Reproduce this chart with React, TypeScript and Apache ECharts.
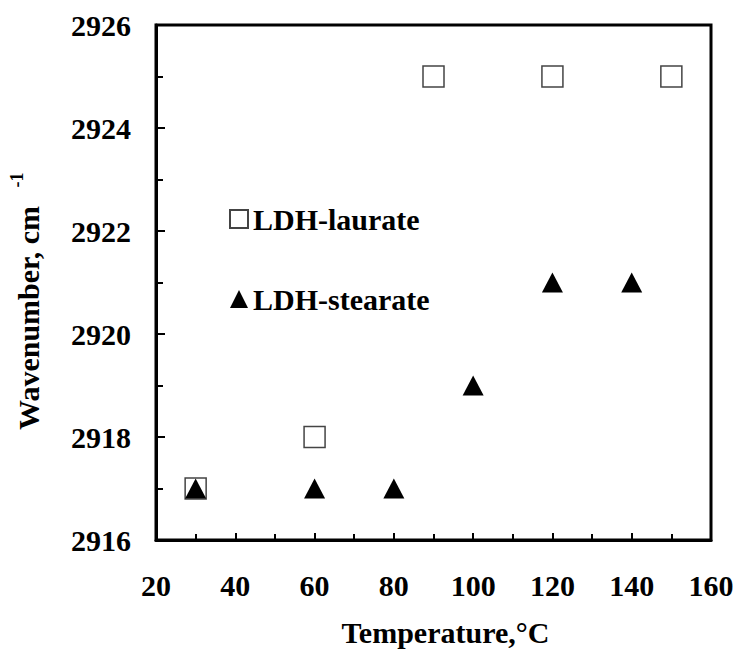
import React, { useEffect, useRef } from "react";
import * as echarts from "echarts";

const laurateTemps = [30, 60, 90, 120, 150];
const laurateWave = [2917, 2918, 2925, 2925, 2925];
const stearateTemps = [30, 60, 80, 100, 120, 140];
const stearateWave = [2917, 2917, 2917, 2919, 2921, 2921];
const seriesNames = ["LDH-laurate", "LDH-stearate"];
const xTitle = "Temperature,°C";
const yTitle = "Wavenumber, cm";
const ySup = "-1";

const FONT = "'Liberation Serif', 'Times New Roman', serif";

export default function App() {
  const ref = useRef<HTMLDivElement>(null);
  useEffect(() => {
    if (!ref.current) return;
    const chart = echarts.init(ref.current, undefined, { renderer: "svg" });
    const lau = laurateTemps.map((t, i) => [t, laurateWave[i]]);
    const ste = stearateTemps.map((t, i) => [t, stearateWave[i]]);
    chart.setOption({
      animation: false,
      backgroundColor: "#fff",
      grid: {
        left: 156,
        right: 28,
        top: 25,
        bottom: 111,
        show: true,
        borderColor: "#000",
        borderWidth: 3,
      },
      legend: {
        orient: "vertical",
        left: 224,
        top: 199,
        itemWidth: 18,
        itemHeight: 18,
        itemGap: 50,
        textStyle: {
          fontFamily: FONT,
          fontWeight: "bold",
          fontSize: 30,
          color: "#000",
          lineHeight: 30,
        },
        data: seriesNames,
      },
      xAxis: {
        type: "value",
        min: 20,
        max: 160,
        interval: 20,
        name: xTitle,
        nameLocation: "middle",
        nameGap: 77,
        nameTextStyle: {
          fontFamily: FONT,
          fontWeight: "bold",
          fontSize: 30,
          color: "#000",
          padding: [0, 0, 0, 24],
        },
        axisLine: { show: true, lineStyle: { color: "#000", width: 3 } },
        axisTick: { show: true, inside: true, length: 7, lineStyle: { color: "#000", width: 2 } },
        minorTick: { show: true, splitNumber: 2, length: 6, lineStyle: { color: "#000", width: 2 } },
        splitLine: { show: false },
        axisLabel: {
          margin: 30,
          fontFamily: FONT,
          fontWeight: "bold",
          fontSize: 30,
          color: "#000",
        },
      },
      yAxis: {
        type: "value",
        min: 2916,
        max: 2926,
        interval: 2,
        axisLine: { show: true, lineStyle: { color: "#000", width: 3 } },
        axisTick: { show: true, inside: true, length: 9, lineStyle: { color: "#000", width: 2 } },
        minorTick: { show: true, splitNumber: 2, length: 7, lineStyle: { color: "#000", width: 2 } },
        splitLine: { show: false },
        axisLabel: {
          margin: 25,
          fontFamily: FONT,
          fontWeight: "bold",
          fontSize: 30,
          color: "#000",
          formatter: (v: number) => String(v),
        },
      },
      graphic: [
        {
          type: "text",
          x: 28,
          y: 318,
          rotation: Math.PI / 2,
          style: {
            text: yTitle,
            fontFamily: FONT,
            fontWeight: "bold",
            fontSize: 30,
            fill: "#000",
            align: "center",
            verticalAlign: "middle",
          },
        },
        {
          type: "text",
          x: 17,
          y: 180,
          rotation: Math.PI / 2,
          style: {
            text: ySup,
            fontFamily: FONT,
            fontWeight: "bold",
            fontSize: 18,
            fill: "#000",
            align: "center",
            verticalAlign: "middle",
          },
        },
      ],
      series: [
        {
          name: seriesNames[0],
          type: "scatter",
          data: lau,
          symbol: "rect",
          symbolSize: 21,
          itemStyle: { color: "#fff", borderColor: "#444", borderWidth: 1.5, opacity: 1 },
          z: 2,
        },
        {
          name: seriesNames[1],
          type: "scatter",
          data: ste,
          symbol: "triangle",
          symbolSize: [21, 20],
          itemStyle: { color: "#000", opacity: 1 },
          z: 3,
        },
      ],
    });
    return () => chart.dispose();
  }, []);
  return (
    <div
      ref={ref}
      style={{ position: "fixed", left: 0, top: 0, width: 739, height: 652 }}
    />
  );
}
